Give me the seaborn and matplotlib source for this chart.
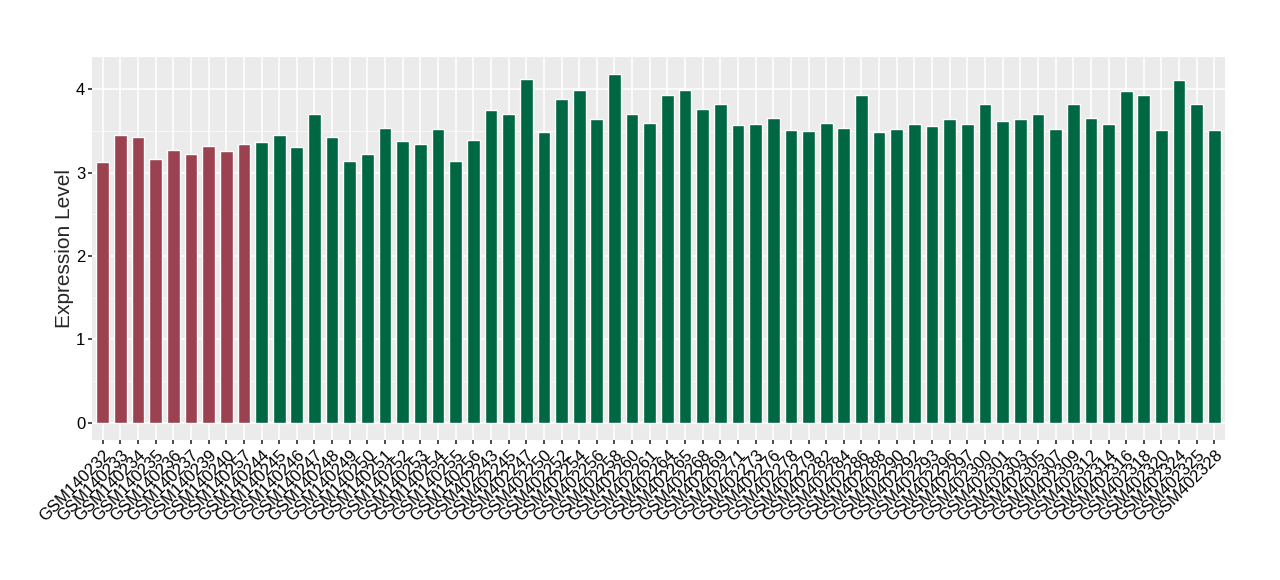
import numpy as np
import pandas as pd
import matplotlib
matplotlib.use("Agg")
import matplotlib.pyplot as plt
import seaborn as sns

# ── data ─────────────────────────────────────────
samples = [
    "GSM140232", "GSM140233", "GSM140234", "GSM140235", "GSM140236", "GSM140237",
    "GSM140239", "GSM140240", "GSM140257",
    "GSM140244", "GSM140245", "GSM140246", "GSM140247", "GSM140248", "GSM140249",
    "GSM140250", "GSM140251", "GSM140252", "GSM140253", "GSM140254", "GSM140255",
    "GSM140256",
    "GSM402243", "GSM402245", "GSM402247", "GSM402250", "GSM402252", "GSM402254",
    "GSM402256", "GSM402258", "GSM402260", "GSM402261", "GSM402264", "GSM402265",
    "GSM402268", "GSM402269", "GSM402271", "GSM402273", "GSM402276", "GSM402278",
    "GSM402279", "GSM402282", "GSM402284", "GSM402286", "GSM402288", "GSM402290",
    "GSM402292", "GSM402293", "GSM402296", "GSM402297", "GSM402300", "GSM402301",
    "GSM402303", "GSM402305", "GSM402307", "GSM402309", "GSM402312", "GSM402314",
    "GSM402316", "GSM402318", "GSM402320", "GSM402324", "GSM402325", "GSM402328",
]
expression = [
    3.13, 3.45, 3.43, 3.16, 3.27, 3.23, 3.32, 3.26, 3.35,
    3.37, 3.45, 3.31, 3.70, 3.43, 3.14, 3.23, 3.54, 3.38, 3.35, 3.52, 3.14, 3.39,
    3.75, 3.70, 4.13, 3.49, 3.89, 3.99, 3.64, 4.18, 3.70, 3.60, 3.93, 3.99,
    3.77, 3.83, 3.57, 3.59, 3.66, 3.51, 3.50, 3.60, 3.54, 3.93, 3.49, 3.53,
    3.59, 3.56, 3.65, 3.59, 3.83, 3.62, 3.65, 3.71, 3.52, 3.83, 3.66, 3.59,
    3.98, 3.93, 3.51, 4.11, 3.82, 3.51,
]
groups = ["control"] * 9 + ["case"] * 55
palette = {"control": "#9B4150", "case": "#006743"}

df = pd.DataFrame({"sample": samples, "value": expression, "group": groups})

# ── plot ─────────────────────────────────────────
sns.set_theme(style="darkgrid", rc={
    "axes.facecolor": "#EBEBEB",
    "grid.color": "white",
    "xtick.bottom": True,
    "ytick.left": True,
})
plt.rcParams["font.family"] = ["Liberation Sans", "DejaVu Sans"]

fig, ax = plt.subplots(figsize=(12.8, 5.8), dpi=100)
fig.subplots_adjust(left=0.072, right=0.957, top=0.902, bottom=0.241)

sns.barplot(data=df, x="sample", y="value", hue="group", palette=palette,
            dodge=False, width=0.72, saturation=1, legend=False, ax=ax)

ax.set_xlim(-0.6, len(samples) - 0.4)
ax.set_ylim(-0.21, 4.39)
ax.set_yticks([0, 1, 2, 3, 4])
ax.set_yticks([0.5, 1.5, 2.5, 3.5], minor=True)
ax.grid(which="major", color="white", linewidth=1.1)
ax.grid(which="minor", axis="y", color="white", linewidth=0.5)
ax.set_axisbelow(True)
for s in ax.spines.values():
    s.set_visible(False)

ax.tick_params(axis="both", which="major", length=3, color="#333333", labelsize=12,
               labelcolor="black", pad=2)
ax.tick_params(axis="y", which="minor", length=0)
plt.setp(ax.get_xticklabels(), rotation=45, ha="right", rotation_mode="anchor")

ax.set_xlabel("")
ax.set_ylabel("Expression Level", fontsize=15, labelpad=1)

plt.savefig("out.png", dpi=100)
plt.close()
